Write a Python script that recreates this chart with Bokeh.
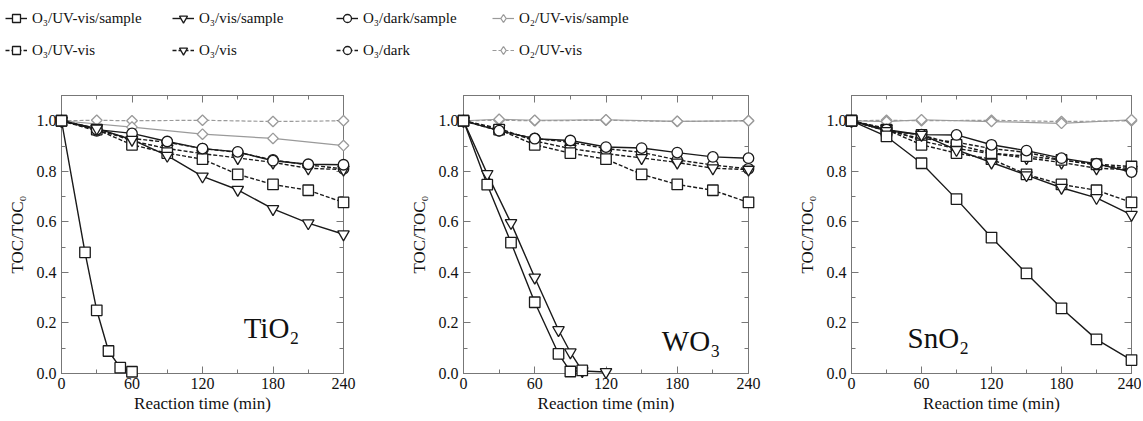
from bokeh.plotting import figure
from bokeh.layouts import column, row
from bokeh.models import (FixedTicker, NumeralTickFormatter, LinearAxis, Label,
                          Legend, LegendItem, CustomJSTickFormatter, Range1d)
from bokeh.embed import file_html
from bokeh.resources import INLINE
import math

FONT = "Liberation Serif"
BLACK = "#1a1a1a"
GRAY = "#9a9a9a"
FRAME = "#777777"

# ---------------- data ----------------
t9 = [0, 30, 60, 90, 120, 150, 180, 210, 240]
t_o2 = [0, 30, 60, 120, 180, 240]

# controls (no sample) - same in every panel
ctrl_uvvis = [1.0, 0.965, 0.905, 0.872, 0.848, 0.788, 0.748, 0.725, 0.677]
ctrl_vis = [1.0, 0.97, 0.92, 0.89, 0.87, 0.853, 0.835, 0.812, 0.807]
ctrl_dark = [1.0, 0.96, 0.93, 0.915, 0.89, 0.875, 0.845, 0.825, 0.81]
ctrl_o2 = [1.0, 1.002, 1.0, 1.002, 0.997, 1.0]

# TiO2
tio2_uvvis_t = [0, 20, 30, 40, 50, 60]
tio2_uvvis = [1.0, 0.479, 0.25, 0.089, 0.023, 0.007]
tio2_vis = [1.0, 0.97, 0.925, 0.862, 0.78, 0.727, 0.651, 0.595, 0.551]
tio2_dark = [1.0, 0.965, 0.95, 0.918, 0.89, 0.877, 0.842, 0.828, 0.826]
tio2_o2_t = [0, 60, 120, 180, 240]
tio2_o2 = [1.0, 0.975, 0.947, 0.93, 0.902]

# WO3
wo3_uvvis_t = [0, 20, 40, 60, 80, 90, 100]
wo3_uvvis = [1.0, 0.747, 0.518, 0.282, 0.078, 0.008, 0.012]
wo3_vis_t = [0, 20, 40, 60, 80, 90, 100, 120]
wo3_vis = [1.0, 0.79, 0.596, 0.38, 0.172, 0.084, 0.01, 0.006]
wo3_dark = [1.0, 0.961, 0.929, 0.922, 0.896, 0.892, 0.874, 0.857, 0.852]
wo3_o2 = [1.0, 1.006, 1.002, 1.004, 0.998, 1.0]

# SnO2
sno2_uvvis = [1.0, 0.938, 0.832, 0.69, 0.538, 0.396, 0.258, 0.135, 0.053]
sno2_vis = [1.0, 0.96, 0.945, 0.885, 0.835, 0.785, 0.735, 0.695, 0.628]
sno2_dark = [1.0, 0.965, 0.945, 0.944, 0.905, 0.882, 0.852, 0.83, 0.797]
sno2_o2 = [1.0, 0.997, 1.004, 0.997, 0.99, 1.004]
sno2_extra = [1.0, 0.96, 0.944, 0.905, 0.872, 0.86, 0.845, 0.828, 0.819]

x_ticks = [0, 60, 120, 180, 240]
x_minor = [30, 90, 150, 210]
y_ticks = [0.0, 0.2, 0.4, 0.6, 0.8, 1.0]
y_minor = [0.1, 0.3, 0.5, 0.7, 0.9]

labels_sample = ["O\u2083/UV-vis/sample", "O\u2083/vis/sample", "O\u2083/dark/sample", "O\u2082/UV-vis/sample"]
labels_ctrl = ["O\u2083/UV-vis", "O\u2083/vis", "O\u2083/dark", "O\u2082/UV-vis"]

# ---------------- styles ----------------
MK = {
    "uvvis": dict(marker="square", size=10.5, angle=0, color=BLACK),
    "vis": dict(marker="inverted_triangle", size=11.5, angle=0, color=BLACK),
    "dark": dict(marker="circle", size=10.5, angle=0, color=BLACK),
    "o2": dict(marker="square", size=7.5, angle=math.pi / 4, color=GRAY),
}
DASH = "4 2"


def draw(p, x, y, kind, dashed, marker_level="overlay", legend=False):
    st = MK[kind]
    lw = 1.2 if kind == "o2" else 1.4
    ln = p.line(x, y, line_color=st["color"], line_width=lw,
                line_dash=DASH if dashed else "solid")
    marker, angle, size = st["marker"], st["angle"], st["size"]
    if legend and kind == "o2":
        marker, angle, size = "diamond", 0, 12
    sc = p.scatter(x, y, marker=marker, size=size, angle=angle,
                   fill_color="white", line_color=st["color"], line_width=1.3)
    sc.level = marker_level
    return ln, sc


def make_panel(width, height, bl, br, bt, bb, series, lab, lx, ly):
    p = figure(width=width, height=height, x_range=Range1d(0, 240), y_range=Range1d(0, 1.1),
               output_backend="svg", toolbar_location=None,
               min_border_left=bl, min_border_right=br, min_border_top=bt, min_border_bottom=bb)
    p.xgrid.visible = False
    p.ygrid.visible = False
    p.outline_line_color = FRAME
    p.outline_line_width = 1
    p.background_fill_color = "white"
    p.border_fill_color = "white"

    xb = p.below[0]
    yl = p.left[0]
    xb.ticker = FixedTicker(ticks=x_ticks, minor_ticks=x_minor)
    yl.ticker = FixedTicker(ticks=y_ticks, minor_ticks=y_minor)
    yl.formatter = NumeralTickFormatter(format="0.0")
    xb.axis_label = "Reaction time (min)"
    yl.axis_label = "TOC/TOC\u2080"

    top = LinearAxis(ticker=FixedTicker(ticks=x_ticks, minor_ticks=x_minor),
                     formatter=CustomJSTickFormatter(code="return ''"))
    right = LinearAxis(ticker=FixedTicker(ticks=y_ticks, minor_ticks=y_minor),
                       formatter=CustomJSTickFormatter(code="return ''"))
    p.add_layout(top, "above")
    p.add_layout(right, "right")
    for ax in [xb, yl, top, right]:
        ax.axis_line_color = FRAME
        ax.major_tick_line_color = FRAME
        ax.minor_tick_line_color = FRAME
        ax.major_tick_in = 7
        ax.major_tick_out = 0
        ax.minor_tick_in = 4
        ax.minor_tick_out = 0
        ax.major_label_text_font = FONT
        ax.major_label_text_font_size = "16px"
        ax.major_label_text_color = "#111111"
        ax.axis_label_text_font = FONT
        ax.axis_label_text_font_style = "normal"
        ax.axis_label_text_color = "#111111"
    for ax in [top, right]:
        ax.major_label_standoff = 0
        ax.major_label_text_font_size = "0px"
    xb.major_label_standoff = 4
    yl.major_label_standoff = 5
    xb.axis_label_text_font_size = "17px"
    xb.axis_label_standoff = 2
    yl.axis_label_text_font_size = "17px"
    yl.axis_label_standoff = 7

    for (x, y, kind, dashed) in series:
        draw(p, x, y, kind, dashed)

    p.add_layout(Label(x=lx, y=ly, text=lab, text_font=FONT, text_font_size="29px",
                       text_baseline="middle", text_color="#111111"))
    return p


p1 = make_panel(363, 361, 61, 20, 33, 46, [
    (t_o2, ctrl_o2, "o2", True), (tio2_o2_t, tio2_o2, "o2", False),
    (t9, ctrl_dark, "dark", True), (t9, ctrl_vis, "vis", True), (t9, ctrl_uvvis, "uvvis", True),
    (t9, tio2_dark, "dark", False), (t9, tio2_vis, "vis", False),
    (tio2_uvvis_t, tio2_uvvis, "uvvis", False),
], "TiO\u2082", 155, 0.18)

p2 = make_panel(405, 361, 100, 20, 33, 45, [
    (t_o2, ctrl_o2, "o2", True), (t_o2, wo3_o2, "o2", False),
    (t9, ctrl_dark, "dark", True), (t9, ctrl_vis, "vis", True), (t9, ctrl_uvvis, "uvvis", True),
    (t9, wo3_dark, "dark", False), (wo3_vis_t, wo3_vis, "vis", False),
    (wo3_uvvis_t, wo3_uvvis, "uvvis", False),
], "WO\u2083", 167, 0.13)

p3 = make_panel(373, 361, 83, 10, 35, 48, [
    (t_o2, ctrl_o2, "o2", True), (t_o2, sno2_o2, "o2", False),
    (t9, ctrl_dark, "dark", True), (t9, ctrl_vis, "vis", True), (t9, ctrl_uvvis, "uvvis", True),
    (t9, sno2_extra, "uvvis", True),
    (t9, sno2_dark, "dark", False), (t9, sno2_vis, "vis", False),
    (t9, sno2_uvvis, "uvvis", False),
], "SnO\u2082", 48, 0.14)

# ---------------- legend strip ----------------
lg = figure(width=700, height=60, x_range=Range1d(1000, 2000), y_range=Range1d(0, 1),
            output_backend="svg", toolbar_location=None, x_axis_type=None, y_axis_type=None,
            min_border=0)
lg.outline_line_color = None
lg.xgrid.visible = False
lg.ygrid.visible = False

kinds = ["uvvis", "vis", "dark", "o2"]
col_x = [5, 172, 336, 492]
for i, kind in enumerate(kinds):
    l1, s1 = draw(lg, t9[:2], ctrl_uvvis[:2], kind, False, marker_level="glyph", legend=True)
    l2, s2 = draw(lg, t9[:2], ctrl_uvvis[:2], kind, True, marker_level="glyph", legend=True)
    leg = Legend(items=[LegendItem(label=labels_sample[i], renderers=[l1, s1]),
                        LegendItem(label=labels_ctrl[i], renderers=[l2, s2])],
                 location=(col_x[i], 0), orientation="vertical",
                 border_line_color=None, background_fill_alpha=0, padding=0, margin=0,
                 spacing=12, glyph_width=22, glyph_height=20, label_height=20,
                 label_standoff=5, label_text_font=FONT, label_text_font_size="15px",
                 label_text_color="#111111")
    lg.add_layout(leg)

layout = column(lg, row(p1, p2, p3))
open("out.html", "w").write(file_html(layout, INLINE))
